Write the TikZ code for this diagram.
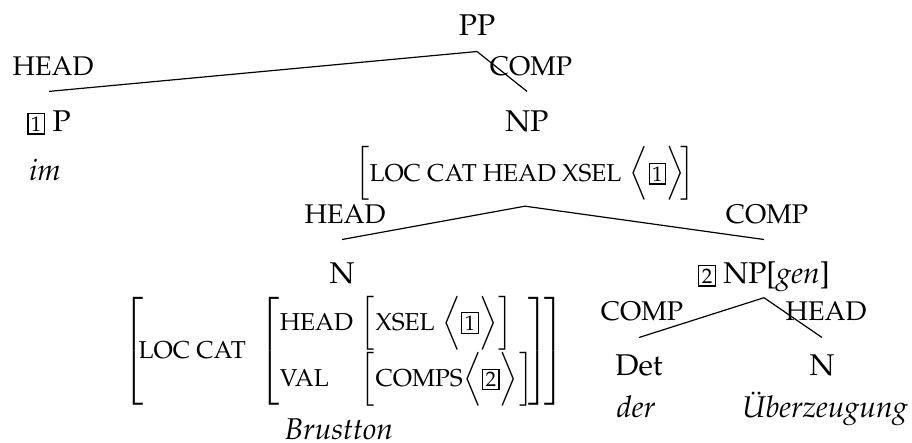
\documentclass[tikz,border=0pt]{standalone}
\usepackage[T1]{fontenc}
\usepackage{mathpazo}
\usepackage{amsmath}
\usetikzlibrary{positioning}

\newcommand{\tagnum}[1]{{\setlength{\fboxsep}{0.8pt}\fbox{\scriptsize #1}}}
\newcommand{\feat}[2][8.15]{\text{\fontsize{#1}{9}\selectfont #2}}

\begin{document}
\begin{tikzpicture}[x=0.3333pt, y=0.3333pt]
\tikzstyle{every node}+=[inner sep=0pt]
\tikzstyle{cat}=[anchor=base, text height=7pt, text depth=2pt]
\tikzstyle{lbl}=[anchor=base, font=\fontsize{9}{10}\selectfont]
\tikzstyle{word}=[anchor=base, font=\itshape]
\useasboundingbox (0,0) rectangle (912,-442);
% PP
\node [cat] (pp) at (477,-35) {PP};
\node [lbl] (pphead) at (53,-75) {HEAD};
\node [lbl] (ppcomp) at (531,-75) {COMP};
\node [cat] (p) at (49,-131) {\tagnum{1} P};
\node [word] (im) at (45,-180) {im};
\node [cat] (np) at (527,-131) {NP};
\node [anchor=base] (npavm) at (525,-181)
  {$\Bigl[\feat{LOC CAT HEAD XSEL}\;\Bigl\langle\tagnum{1}\Bigr\rangle\!\Bigr]$};
\draw ([yshift=-3.3pt]pp.south) -- ([yshift=6pt]p.north);
\draw ([yshift=-3.3pt]pp.south) -- ([yshift=6pt]np.north);
% NP
\node [lbl] (nphead) at (345,-223) {HEAD};
\node [lbl] (npcomp) at (767,-223) {COMP};
\node [cat] (n) at (342,-283) {N};
\node (navm) at (344,-351)
  {$\left[\!\feat{LOC CAT}\;\left[\begin{array}{@{}l@{\ }l@{}}
    \feat{HEAD} & \Bigl[\feat{XSEL}\ \Bigl\langle\tagnum{1}\Bigr\rangle\Bigr]\\[3pt]
    \feat{VAL} & \Bigl[\feat{COMPS}\Bigl\langle\tagnum{2}\Bigr\rangle\Bigr]
  \end{array}\!\right]\!\right]$};
\node [word] (brustton) at (339,-439) {Brustton};
\node [cat] (npgen) at (764,-283) {\tagnum{2} NP[\textit{gen}]};
\draw ([yshift=-1.3pt]npavm.south) -- ([yshift=7.3pt]n.north);
\draw ([yshift=-1.3pt]npavm.south) -- ([yshift=7.3pt]npgen.north);
% NP[gen]
\node [lbl] (detcomp) at (642,-320) {COMP};
\node [lbl] (nhead) at (826,-320) {HEAD};
\node [cat] (det) at (639,-375) {Det};
\node [cat] (n2) at (822,-375) {N};
\node [word] (der) at (636,-417) {der};
\node [word] (uberz) at (825,-417) {\"Uberzeugung};
\draw ([yshift=-2.7pt]npgen.south) -- ([yshift=5.3pt]det.north);
\draw ([yshift=-2.7pt]npgen.south) -- ([yshift=5.3pt]n2.north);
\end{tikzpicture}
\end{document}
